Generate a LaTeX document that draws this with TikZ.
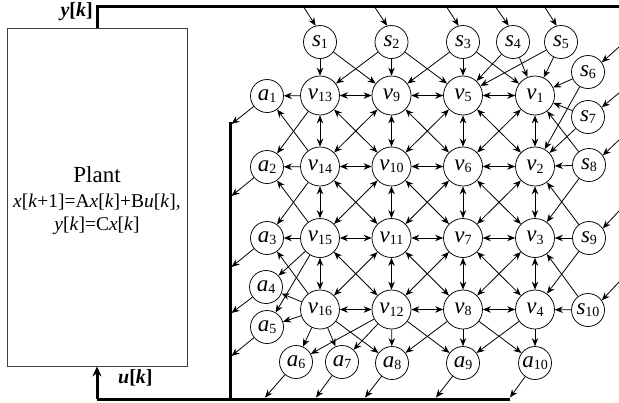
\documentclass[tikz,border=0pt]{standalone}
\usepackage{fontspec}
\setmainfont{Liberation Serif}
\usetikzlibrary{arrows.meta}
\newcommand\lb[2]{\textit{#1}\raisebox{-2.5pt}{\fontsize{14}{14}\selectfont #2}}
\begin{document}
\begin{tikzpicture}[x=1pt,y=-1pt,
  vn/.style={circle,draw,line width=0.75pt,minimum size=39pt,inner sep=0pt,font=\fontsize{23}{23}\selectfont},
  sn/.style={circle,draw,line width=0.75pt,minimum size=33pt,inner sep=0pt,font=\fontsize{23}{23}\selectfont},
  ed/.style={-{Stealth[length=8pt,width=6.5pt]},line width=0.8pt},
  bd/.style={{Stealth[length=8pt,width=6.5pt]}-{Stealth[length=8pt,width=6.5pt]},line width=0.8pt},
  bus/.style={line width=3pt},
  lab/.style={inner sep=0pt},
]
\useasboundingbox (0,0) rectangle (619,402);

% plant
\node[draw=black!75,line width=0.8pt,minimum width=180pt,minimum height=338pt,inner sep=0pt] (plant) at (97,197) {};
\node[lab,anchor=base] (pt) at (97,182) {\fontsize{23}{23}\selectfont Plant};
\node[lab,anchor=base] (e1) at (97,207) {\fontsize{19.5}{19.5}\selectfont \textit{x}[\textit{k}+1]=A\textit{x}[\textit{k}]+B\textit{u}[\textit{k}],};
\node[lab,anchor=base] (e2) at (97,230) {\fontsize{19.5}{19.5}\selectfont \textit{y}[\textit{k}]=C\textit{x}[\textit{k}]};
\node[lab,anchor=base east] (yk) at (93,16.5) {\fontsize{20}{20}\selectfont\bfseries\textit{y}[\textit{k}]};
\node[lab,anchor=base west] (uk) at (118,383.5) {\fontsize{20}{20}\selectfont\bfseries\textit{u}[\textit{k}]};

% v grid
\node[vn] (v13) at (320,95.5) {\lb{v}{13}};
\node[vn] (v9)  at (391.5,95.5) {\lb{v}{9}};
\node[vn] (v5)  at (463,95.5) {\lb{v}{5}};
\node[vn] (v1)  at (535,95.5) {\lb{v}{1}};
\node[vn] (v14) at (320,166.5) {\lb{v}{14}};
\node[vn] (v10) at (391.5,166.5) {\lb{v}{10}};
\node[vn] (v6)  at (463,166.5) {\lb{v}{6}};
\node[vn] (v2)  at (535,166.5) {\lb{v}{2}};
\node[vn] (v15) at (320,238) {\lb{v}{15}};
\node[vn] (v11) at (391.5,238) {\lb{v}{11}};
\node[vn] (v7)  at (463,238) {\lb{v}{7}};
\node[vn] (v3)  at (535,238) {\lb{v}{3}};
\node[vn] (v16) at (320,309.5) {\lb{v}{16}};
\node[vn] (v12) at (391.5,309.5) {\lb{v}{12}};
\node[vn] (v8)  at (463,309.5) {\lb{v}{8}};
\node[vn] (v4)  at (535,309.5) {\lb{v}{4}};

% s nodes
\node[sn] (s1) at (320,42) {\lb{s}{1}};
\node[sn] (s2) at (391.5,42) {\lb{s}{2}};
\node[sn] (s3) at (463,42) {\lb{s}{3}};
\node[sn] (s4) at (513,42) {\lb{s}{4}};
\node[sn] (s5) at (561,42) {\lb{s}{5}};
\node[sn] (s6) at (588,72) {\lb{s}{6}};
\node[sn] (s7) at (588,117) {\lb{s}{7}};
\node[sn] (s8) at (589,165) {\lb{s}{8}};
\node[sn] (s9) at (589,238) {\lb{s}{9}};
\node[sn] (s10) at (588,310) {\lb{s}{10}};

% a nodes
\node[sn] (a1) at (267,96) {\lb{a}{1}};
\node[sn] (a2) at (267,167) {\lb{a}{2}};
\node[sn] (a3) at (267,238) {\lb{a}{3}};
\node[sn] (a4) at (266,287) {\lb{a}{4}};
\node[sn] (a5) at (267,327) {\lb{a}{5}};
\node[sn] (a6) at (296,362) {\lb{a}{6}};
\node[sn] (a7) at (342,362) {\lb{a}{7}};
\node[sn] (a8) at (392,363) {\lb{a}{8}};
\node[sn] (a9) at (463,363) {\lb{a}{9}};
\node[sn] (a10) at (535,363) {\lb{a}{10}};

% buses
\coordinate (ytop) at (619,6);
\coordinate (lt) at (230,122);
\coordinate (bl) at (97,399);
\coordinate (br) at (510,399);
\coordinate (bc) at (230,399);
\draw[bus] (plant.north) |- (ytop);
\draw[bus] (lt) -- (bc);
\draw[bus] (bl) -- (br);
\draw[bus,-{Stealth[length=10pt,width=9pt]}] (bl) -- (plant.south);

% v-v edges
\foreach \n in {5,...,16}{\pgfmathtruncatemacro\m{\n-4}\draw[bd] (v\n) -- (v\m);}
\foreach \n in {1,2,3,5,6,7,9,10,11,13,14,15}{\pgfmathtruncatemacro\m{\n+1}\draw[bd] (v\n) -- (v\m);}
\foreach \n in {5,6,7,9,10,11,13,14,15}{\pgfmathtruncatemacro\m{\n-3}\draw[bd] (v\n) -- (v\m);}
\foreach \n in {5,6,7,9,10,11,13,14,15}{\pgfmathtruncatemacro\m{\n-4}\pgfmathtruncatemacro\k{\n+1}\draw[bd] (v\m) -- (v\k);}

% s-v edges
\foreach \s/\v in {s1/v13, s1/v9, s2/v13, s2/v9, s2/v5, s3/v9, s3/v5, s3/v1, s4/v5, s4/v1, s5/v5, s5/v1, s6/v1, s6/v2, s7/v1, s7/v2, s8/v1, s8/v2, s8/v3, s9/v2, s9/v3, s9/v4, s10/v3, s10/v4}
  \draw[ed] (\s) -- (\v);

% v-a edges
\foreach \v/\a in {v13/a1, v14/a1, v13/a2, v14/a2, v15/a2, v14/a3, v15/a3, v16/a3, v15/a4, v16/a4, v15/a5, v16/a5, v16/a6, v12/a6, v16/a7, v12/a7, v16/a8, v12/a8, v8/a8, v12/a9, v8/a9, v4/a9, v8/a10, v4/a10}
  \draw[ed] (\v) -- (\a);

% input arrows from y bus
\coordinate (t1) at (304,7.5);
\coordinate (t2) at (375,7.5);
\coordinate (t3) at (447,7.5);
\coordinate (t4) at (496,7.5);
\coordinate (t5) at (545,7.5);
\coordinate (t6) at (619,47);
\coordinate (t7) at (619,93);
\coordinate (t8) at (619,140);
\coordinate (t9) at (619,211);
\coordinate (t10) at (619,282);
\foreach \i in {1,...,5}{\draw[ed] (t\i) -- (s\i.105);}
\foreach \i in {6,...,10}{\draw[ed] (t\i) -- (s\i.35);}

% output arrows to u bus
\coordinate (b1) at (231.5,124);
\coordinate (b2) at (231.5,196);
\coordinate (b3) at (231.5,267);
\coordinate (b4) at (231.5,313);
\coordinate (b5) at (231.5,356);
\coordinate (b6) at (265,397.5);
\coordinate (b7) at (316,397.5);
\coordinate (b8) at (365,397.5);
\coordinate (b9) at (436,397.5);
\coordinate (b10) at (510,397.5);
\foreach \i in {1,...,10}{\draw[ed] (a\i) -- (b\i);}
\end{tikzpicture}
\end{document}
